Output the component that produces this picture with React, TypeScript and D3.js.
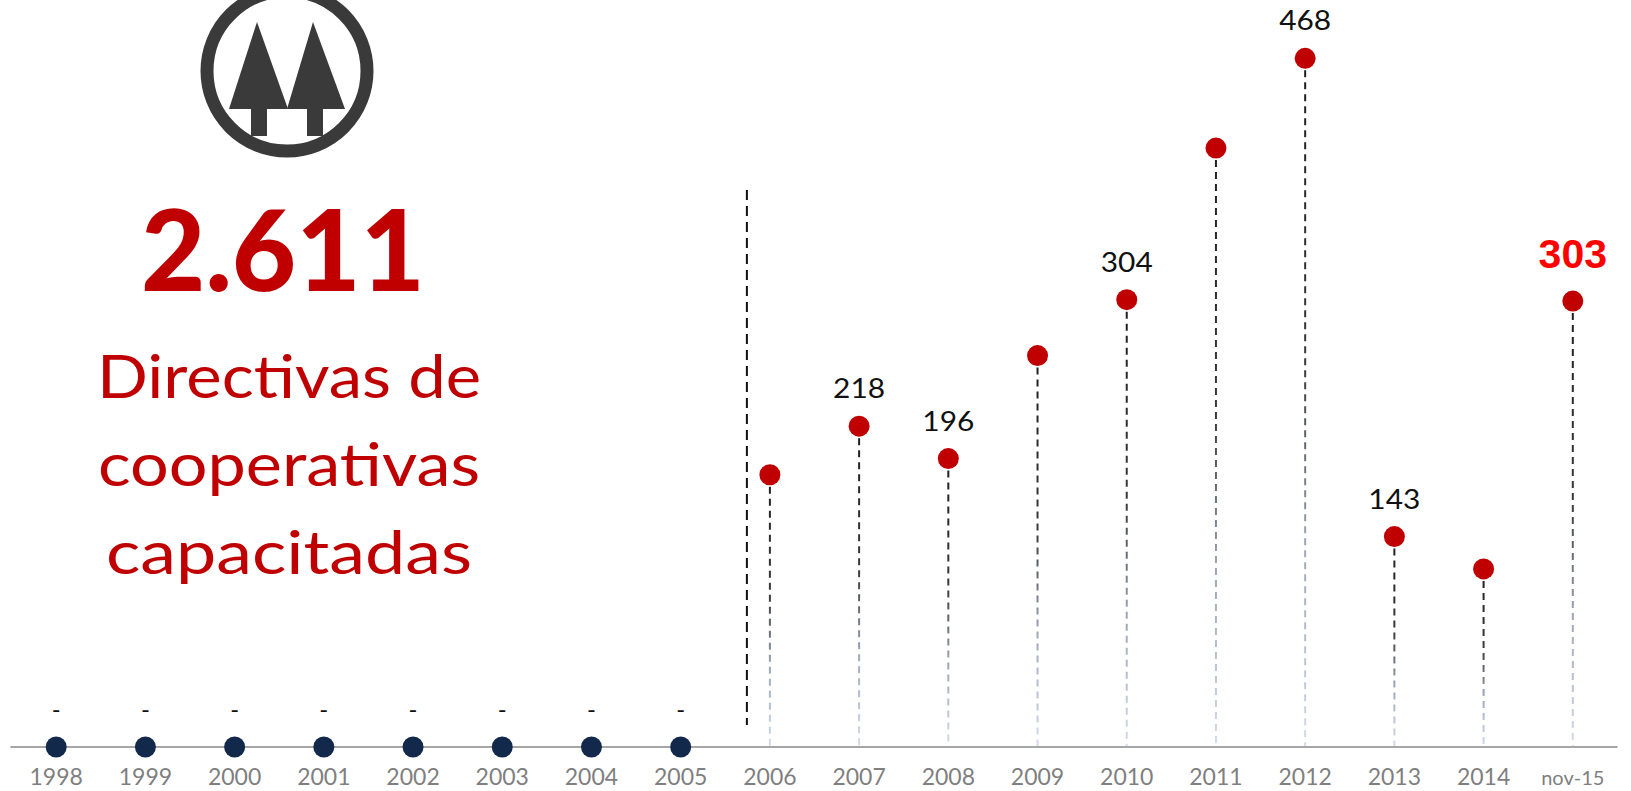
import React from "react";
import * as d3 from "d3";

const categories = ["1998","1999","2000","2001","2002","2003","2004","2005","2006","2007","2008","2009","2010","2011","2012","2013","2014","nov-15"];
const values = [0,0,0,0,0,0,0,0,185,218,196,266,304,407,468,143,121,303];
const valueLabels = ["-","-","-","-","-","-","-","-","","218","196","","304","","468","143","","303"];
const totalLabel = "2.611";
const titleLines = ["Directivas de", "cooperativas", "capacitadas"];

const W = 1631, H = 791;

export default function App() {
  const x = d3.scalePoint<string>().domain(categories).range([56.2, 1572.8]);
  const y = d3.scaleLinear().domain([0, 468]).range([747, 58.3]);
  const baseY = y(0);
  const font = "Lato, 'Open Sans', sans-serif";
  const divX = (x("2006") as number) - 23;

  return (
    <svg width={W} height={H} style={{ position: "absolute", left: 0, top: 0, background: "#fff" }}>
      <defs>
        {categories.map((c, i) =>
          values[i] > 0 ? (
            <linearGradient key={c} id={`g${i}`} gradientUnits="userSpaceOnUse" x1={0} x2={0} y1={y(values[i])} y2={baseY}>
              <stop offset="0" stopColor="#1e1e1e" />
              <stop offset="0.45" stopColor="#3a3a3a" />
              <stop offset="0.7" stopColor="#9aa5b8" />
              <stop offset="1" stopColor="#d3dcee" />
            </linearGradient>
          ) : null
        )}
      </defs>

      {/* logo */}
      <g>
        <circle cx={287} cy={71} r={80} fill="none" stroke="#3a3a3a" strokeWidth={13} />
        <polygon points="257,22 229,109 288,109" fill="#3a3a3a" />
        <rect x={251} y={106} width={16} height={30} fill="#3a3a3a" />
        <polygon points="313,22 287,109 345,109" fill="#3a3a3a" />
        <rect x={307} y={106} width={16} height={30} fill="#3a3a3a" />
      </g>

      {/* left text */}
      <text x={283} y={291} textAnchor="middle" fontFamily={font} fontWeight={900} fontSize={112} fill="#c00000" textLength={284} lengthAdjust="spacingAndGlyphs">{totalLabel}</text>
      {titleLines.map((t, i) => (
        <text key={t} x={289} y={398 + i * 88} textAnchor="middle" fontFamily={font} fontSize={60} fill="#c00000" textLength={i === 0 ? 384 : i === 1 ? 382 : 366} lengthAdjust="spacingAndGlyphs">{t}</text>
      ))}

      {/* divider */}
      <line x1={divX} x2={divX} y1={190} y2={725} stroke="#111" strokeWidth={2} strokeDasharray="10 6" />

      {/* drop lines */}
      {categories.map((c, i) =>
        values[i] > 0 ? (
          <line key={c} x1={x(c)} x2={x(c)} y1={y(values[i])} y2={baseY} stroke={`url(#g${i})`} strokeWidth={2} strokeDasharray="7 5" />
        ) : null
      )}

      {/* axis */}
      <line x1={10.4} x2={1617.5} y1={baseY} y2={baseY} stroke="#a6a6a6" strokeWidth={2} />

      {/* dots */}
      {categories.map((c, i) => (
        <circle key={c} cx={x(c)} cy={y(values[i])} r={10.5} fill={values[i] > 0 ? "#c00000" : "#13294b"} />
      ))}

      {/* value labels */}
      {categories.map((c, i) => {
        const lab = valueLabels[i];
        if (!lab) return null;
        if (values[i] === 0) {
          return <text key={c} x={x(c)} y={y(0) - 29} textAnchor="middle" fontFamily={font} fontSize={24} fill="#111">{lab}</text>;
        }
        if (i === categories.length - 1) {
          return <text key={c} x={x(c)} y={y(values[i]) - 33} textAnchor="middle" fontFamily="'Liberation Sans', Arial, sans-serif" fontWeight={700} fontSize={41} fill="#ff0000">{lab}</text>;
        }
        return <text key={c} x={x(c)} y={y(values[i]) - 28} textAnchor="middle" fontFamily={font} fontSize={27} fill="#111" textLength={52} lengthAdjust="spacingAndGlyphs">{lab}</text>;
      })}

      {/* tick labels */}
      {categories.map((c, i) => (
        <text key={c} x={x(c)} y={785} textAnchor="middle" fontFamily={font} fontSize={c === "nov-15" ? 20 : 23} fill="#7f7f7f">{c}</text>
      ))}
    </svg>
  );
}
